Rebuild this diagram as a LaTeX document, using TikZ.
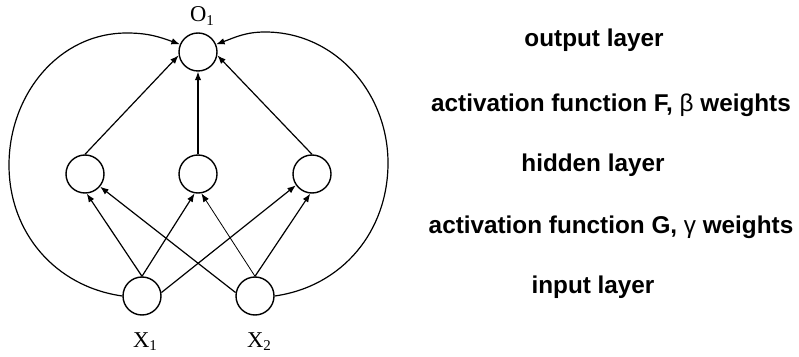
\documentclass[tikz,border=0pt]{standalone}
\usepackage{fontspec}
\setmainfont{Liberation Serif}
\newfontfamily\lsans{Liberation Sans}
\usetikzlibrary{arrows.meta}
\begin{document}
\begin{tikzpicture}[x=1pt,y=1pt,
  neuron/.style={circle,draw,line width=1.4pt,minimum size=38pt,inner sep=0pt},
  conn/.style={line width=1.2pt,-{Latex[length=8.5pt,width=6.5pt]}},
  lbl/.style={anchor=base,inner sep=0pt,font=\fontsize{22.6}{24}\selectfont},
  side/.style={anchor=base,inner sep=0pt,font=\lsans\bfseries\fontsize{24.3}{26}\selectfont}]
\useasboundingbox (0,0) rectangle (799,356);
\node[neuron] (o) at (198,304) {};
\node[neuron] (h1) at (85,182) {};
\node[neuron] (h2) at (198,182) {};
\node[neuron] (h3) at (312,182) {};
\node[neuron] (x1) at (142,60) {};
\node[neuron] (x2) at (255,60) {};
\node[lbl] (ol) at (202,334) {O\raisebox{-0.3ex}{\fontsize{15}{15}\selectfont 1}};
\node[lbl] (x1l) at (145,9) {X\raisebox{-0.3ex}{\fontsize{15}{15}\selectfont 1}};
\node[lbl] (x2l) at (259,9) {X\raisebox{-0.3ex}{\fontsize{15}{15}\selectfont 2}};
% hidden to output
\draw[conn] (h1.north) -- (o.190);
\draw[conn] (h2.north) -- (o.south);
\draw[conn] (h3.north) -- (o.-10);
% input to hidden
\draw[conn] (x1.north) -- (h1.-85);
\draw[conn] (x1.north) -- (h2.-100);
\draw[conn] (x1.10) -- (h3.-145);
\draw[conn] (x2.170) -- (h1.-40);
\draw[conn,line width=0.8pt] (x2.north) -- (h2.-80);
\draw[conn] (x2.north) -- (h3.-95);
% skip connections
\coordinate (lc) at (9,191);
\coordinate (lt) at (127,323);
\coordinate (rc) at (388,193);
\coordinate (rt) at (265,324);
\draw[conn] (x1.west) to[out=172,in=-90] (lc) to[out=90,in=180] (lt) to[out=0,in=160] (o.157);
\draw[conn] (x2.east) to[out=8,in=-90] (rc) to[out=90,in=0] (rt) to[out=180,in=20] (o.23);
% side labels
\node[side] (t1) at (594,309) {output layer};
\node[side] (t2) at (611,244) {activation function F, {\mdseries β} weights};
\node[side] (t3) at (593,184) {hidden layer};
\node[side] (t4) at (611,122) {activation function G, {\mdseries γ} weights};
\node[side] (t5) at (593,63) {input layer};
\end{tikzpicture}
\end{document}
